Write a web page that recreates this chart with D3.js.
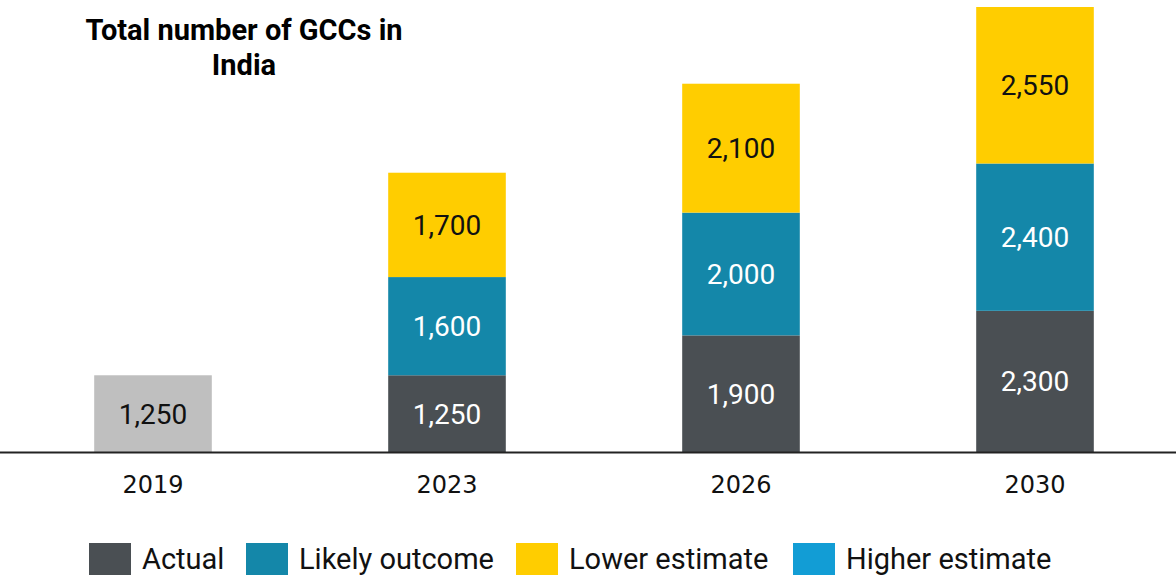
<!DOCTYPE html>
<html><head><meta charset="utf-8">
<script src="https://cdn.jsdelivr.net/npm/d3@7"></script>
<style>html,body{margin:0;padding:0;background:#fff;overflow:hidden}</style>
</head><body>
<svg id="c" width="1176" height="575"></svg>
<script>
const years = ["2019", "2023", "2026", "2030"];
const actual = [1250, 1250, 1900, 2300];
const likely = [0, 1600, 2000, 2400];
const lower = [0, 1700, 2100, 2550];
const seriesNames = ["Actual", "Likely outcome", "Lower estimate", "Higher estimate"];
const titleLines = ["Total number of GCCs in", "India"];

const colors = {"Actual":"#4a4f53","Likely outcome":"#1487a9","Lower estimate":"#ffcd00","Higher estimate":"#129dd5"};
const histColor = "#bfbfbf";

const W = 1176, H = 575;
const svg = d3.select("#c");
const x = d3.scaleBand().domain(years).range([6, 1182]).paddingInner(0.6).paddingOuter(0.3);
const baseY = 452;
const y = d3.scaleLinear().domain([0, 7250]).range([baseY, 7]);

const rows = years.map((yr, i) => ({year: yr, "Actual": actual[i], "Likely outcome": likely[i], "Lower estimate": lower[i]}));
const stack = d3.stack().keys(["Actual", "Likely outcome", "Lower estimate"])(rows);
const fmt = d3.format(",");

stack.forEach(layer => {
  const key = layer.key;
  const g = svg.append("g");
  layer.forEach((d, i) => {
    const v = d[1] - d[0];
    if (!v) return;
    const hist = i === 0;
    const fill = hist ? histColor : colors[key];
    g.append("rect")
      .attr("x", x(d.data.year)).attr("width", x.bandwidth())
      .attr("y", y(d[1])).attr("height", y(d[0]) - y(d[1]))
      .attr("fill", fill);
    const dark = !hist && (key === "Actual" || key === "Likely outcome");
    g.append("text")
      .attr("x", x(d.data.year) + x.bandwidth() / 2)
      .attr("y", (y(d[0]) + y(d[1])) / 2)
      .attr("dy", "0.36em")
      .attr("text-anchor", "middle")
      .attr("font-family", "Roboto")
      .attr("font-size", 28)
      .attr("fill", dark ? "#ffffff" : "#111")
      .text(fmt(v));
  });
});

// baseline axis
svg.append("line").attr("x1", 0).attr("x2", W).attr("y1", baseY + 0.5).attr("y2", baseY + 0.5)
  .attr("stroke", "#222").attr("stroke-width", 2);

const xAxis = d3.axisBottom(x).tickSize(0).tickPadding(0);
const ax = svg.append("g").attr("transform", `translate(0,${baseY})`).call(xAxis);
ax.select(".domain").remove();
ax.selectAll("text").attr("font-family", "DejaVu Sans").attr("font-weight", 400)
  .attr("font-size", 24).attr("fill", "#111").attr("dy", null).attr("y", 41);

// title
svg.append("text").attr("x", 244).attr("y", 40).attr("text-anchor", "middle")
  .attr("font-family", "Roboto").attr("font-weight", 700).attr("font-size", 29).attr("fill", "#000")
  .selectAll("tspan").data(titleLines).join("tspan")
  .attr("x", 244).attr("dy", (d, i) => i ? 35 : 0).text(d => d);

// legend
const legX = [89, 246, 516, 793];
const lg = svg.append("g");
seriesNames.forEach((n, i) => {
  lg.append("rect").attr("x", legX[i]).attr("y", 543).attr("width", 42).attr("height", 40).attr("fill", colors[n]);
  lg.append("text").attr("x", legX[i] + 53).attr("y", 569).attr("font-family", "Roboto")
    .attr("font-size", 29).attr("fill", "#111").text(n);
});
</script>
</body></html>
